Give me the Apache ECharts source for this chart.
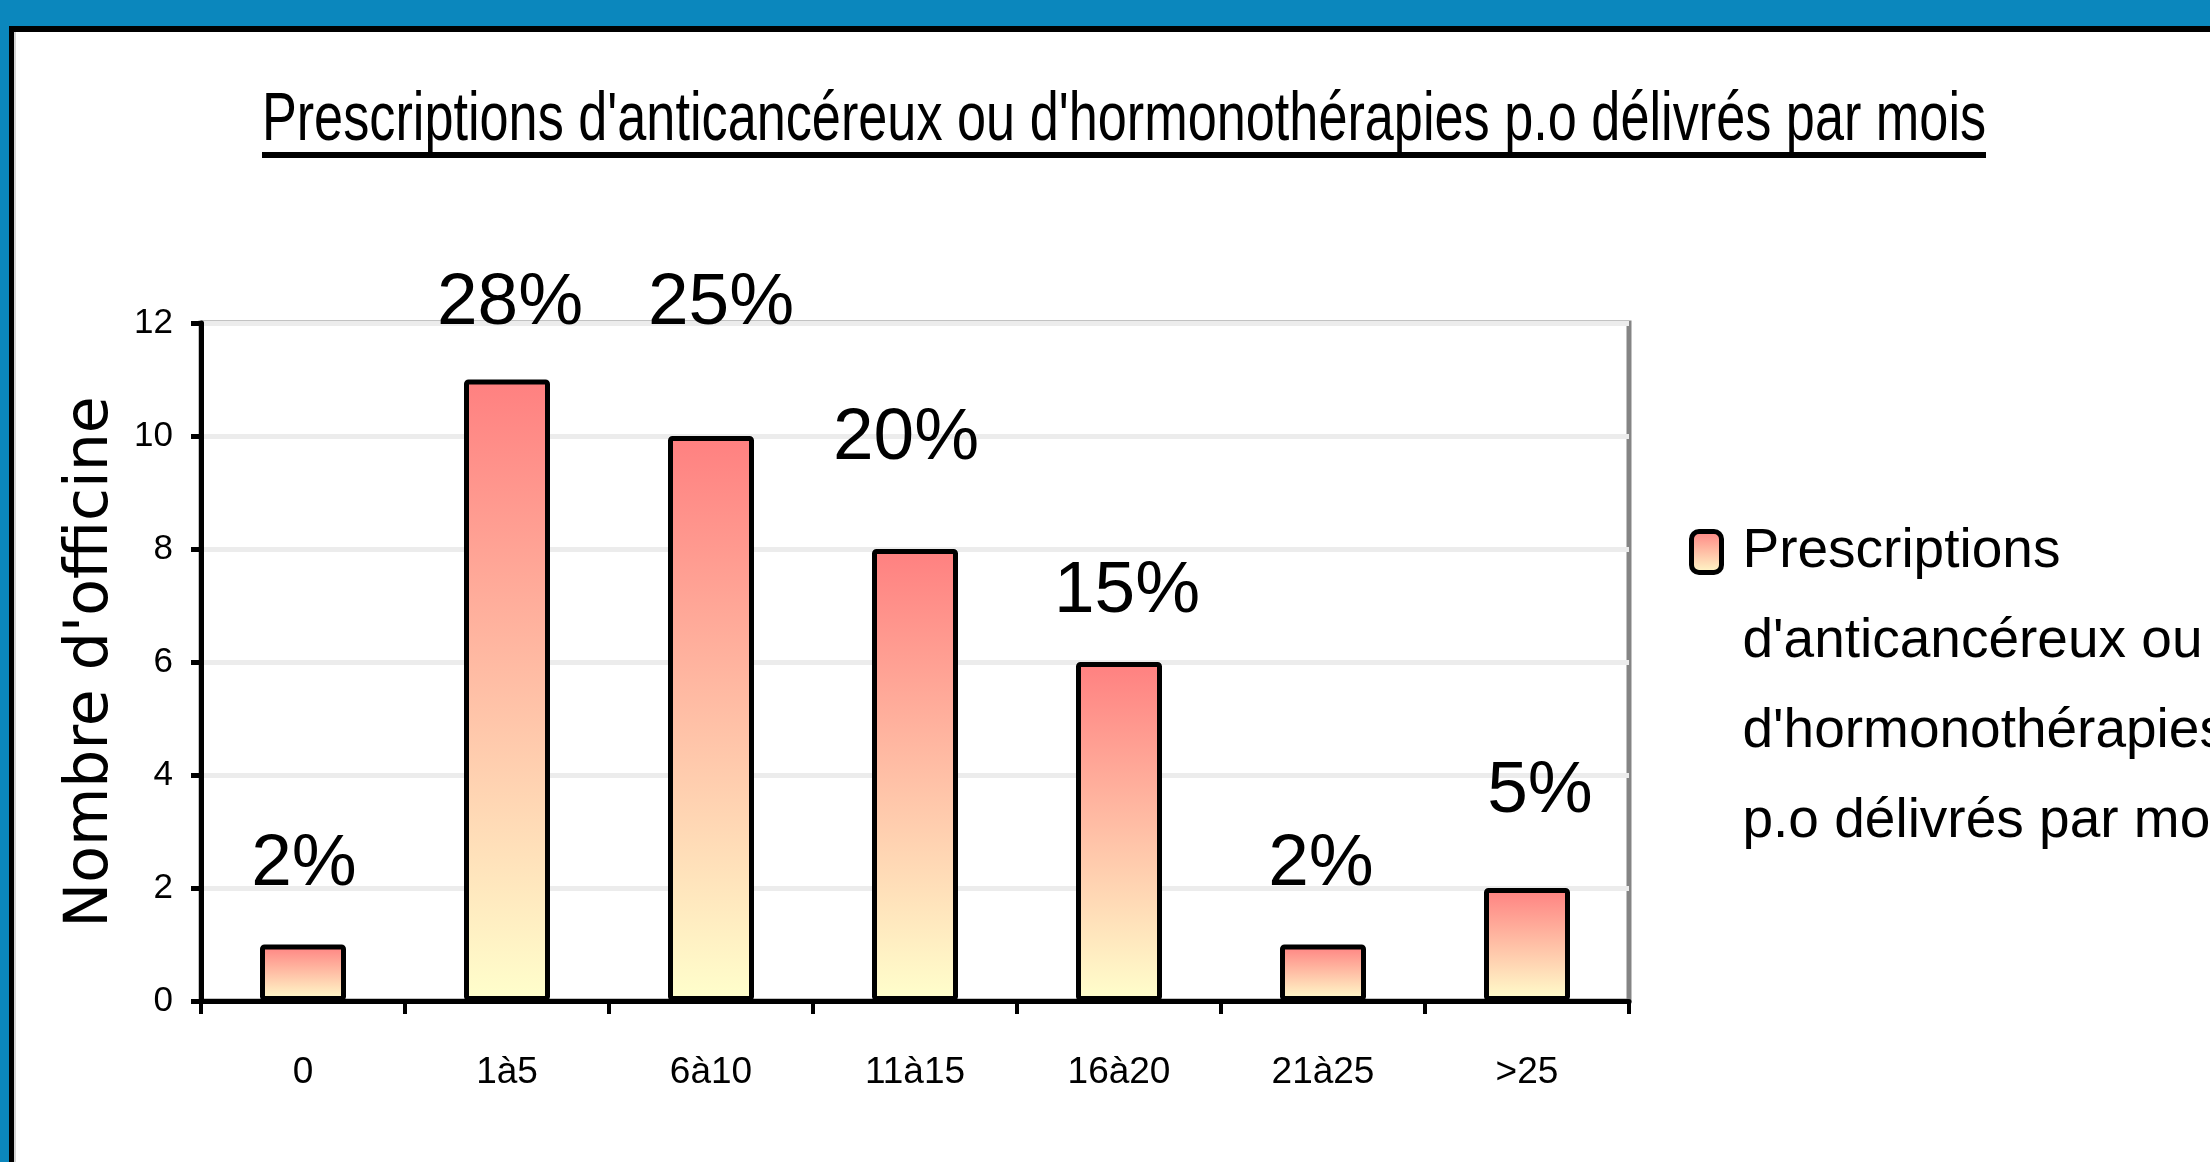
<!DOCTYPE html>
<html>
<head>
<meta charset="utf-8">
<script src="https://cdn.jsdelivr.net/npm/echarts@6/dist/echarts.min.js"></script>
<style>
html,body{margin:0;padding:0;background:#fff;}
#chart{width:2210px;height:1162px;}
</style>
</head>
<body>
<div id="chart"></div>
<script>
// ---- data ----
var categories = ['0', '1à5', '6à10', '11à15', '16à20', '21à25', '>25'];
var officineCounts = [1, 11, 10, 8, 6, 1, 2];
var pctLabels = ['2%', '28%', '25%', '20%', '15%', '2%', '5%'];
var yTicks = [0, 2, 4, 6, 8, 10, 12];
var seriesName = "Prescriptions d'anticancéreux ou d'hormonothérapies p.o délivrés par mois";
var legendLines = ["Prescriptions", "d'anticancéreux ou", "d'hormonothérapies", "p.o délivrés par mois"];
var chartTitle = "Prescriptions d'anticancéreux ou d'hormonothérapies p.o délivrés par mois";
var yAxisTitle = "Nombre d'officine";

// ---- layout nudges for the hand-placed percentage labels (pixels) ----
var labelNudgeX = [1, 3, 10, -9, 8, -2, 13];
var labelLift = [43, 39, 96, 74, 34, 43, 60];

var ARIAL = "'Liberation Sans',Arial,sans-serif";
var BLUE = '#0b87bd';

var barGradient = new echarts.graphic.LinearGradient(0, 0, 0, 1, [
  { offset: 0, color: '#ff8080' },
  { offset: 1, color: '#ffffcc' }
]);

var barData = officineCounts.map(function (v, i) {
  return {
    value: v,
    label: { offset: [labelNudgeX[i], -labelLift[i]] }
  };
});

var chart = echarts.init(document.getElementById('chart'), null, { renderer: 'canvas' });
chart.setOption({
  animation: false,
  backgroundColor: '#ffffff',
  graphic: [
    { type: 'rect', shape: { x: 0, y: 0, width: 2210, height: 26 }, style: { fill: BLUE }, silent: true },
    { type: 'rect', shape: { x: 0, y: 0, width: 9, height: 1162 }, style: { fill: BLUE }, silent: true },
    { type: 'rect', shape: { x: 9, y: 26, width: 2201, height: 6 }, style: { fill: '#000' }, silent: true },
    { type: 'rect', shape: { x: 9, y: 26, width: 5, height: 1136 }, style: { fill: '#000' }, silent: true },
    { type: 'rect', shape: { x: 14, y: 32, width: 2, height: 1130 }, style: { fill: '#d4d4d4' }, silent: true },
    {
      type: 'text', x: 1124, y: 121, scaleX: 0.757, scaleY: 1, silent: true,
      style: {
        text: chartTitle, x: 0, y: 0, align: 'center', verticalAlign: 'middle',
        font: "normal 69px 'Liberation Sans', Arial, sans-serif", fill: '#000'
      }
    },
    { type: 'rect', shape: { x: 262, y: 152, width: 1724, height: 6 }, style: { fill: '#000' }, silent: true }
  ],
  legend: {
    show: true,
    left: 1689,
    top: 237,
    padding: 0,
    orient: 'vertical',
    itemWidth: 30,
    itemHeight: 41,
    data: [{ name: seriesName, icon: 'roundRect' }],
    itemStyle: { borderColor: '#000', borderWidth: 5 },
    formatter: function () { return '\n\n\n' + legendLines.join('\n'); },
    textStyle: {
      fontFamily: ARIAL, fontSize: 55, color: '#000',
      lineHeight: 90, padding: [0, 0, 0, 16]
    }
  },
  grid: {
    left: 201, top: 323, right: 581, bottom: 161,
    show: true, borderColor: '#858585', borderWidth: 5, backgroundColor: 'transparent'
  },
  xAxis: {
    type: 'category',
    data: categories,
    axisLine: { show: true, lineStyle: { color: '#000', width: 5 } },
    axisTick: { show: true, inside: false, length: 13, lineStyle: { color: '#000', width: 4 } },
    axisLabel: { interval: 0, margin: 53, fontFamily: ARIAL, fontSize: 37, color: '#000' },
    splitLine: { show: false }
  },
  yAxis: {
    type: 'value',
    min: 0, max: 12, interval: 2,
    name: yAxisTitle,
    nameLocation: 'middle',
    nameGap: 80,
    nameTextStyle: { fontFamily: "'DejaVu Sans',sans-serif", fontSize: 60, color: '#000' },
    axisLine: { show: true, lineStyle: { color: '#000', width: 5 } },
    axisTick: { show: true, inside: false, length: 10, lineStyle: { color: '#000', width: 5 } },
    axisLabel: {
      margin: 28, fontFamily: ARIAL, fontSize: 35, color: '#000',
      formatter: function (v) { return yTicks.indexOf(v) >= 0 ? String(v) : ''; }
    },
    splitLine: { show: true, lineStyle: { color: '#ececec', width: 5 } }
  },
  series: [{
    name: seriesName,
    type: 'bar',
    data: barData,
    barWidth: 86,
    itemStyle: { color: barGradient, borderColor: '#000', borderWidth: 5, borderRadius: 2 },
    label: {
      show: true,
      position: 'top',
      distance: 0,
      fontFamily: ARIAL,
      fontSize: 73,
      color: '#000',
      formatter: function (p) { return pctLabels[p.dataIndex]; }
    }
  }]
});
</script>
</body>
</html>
